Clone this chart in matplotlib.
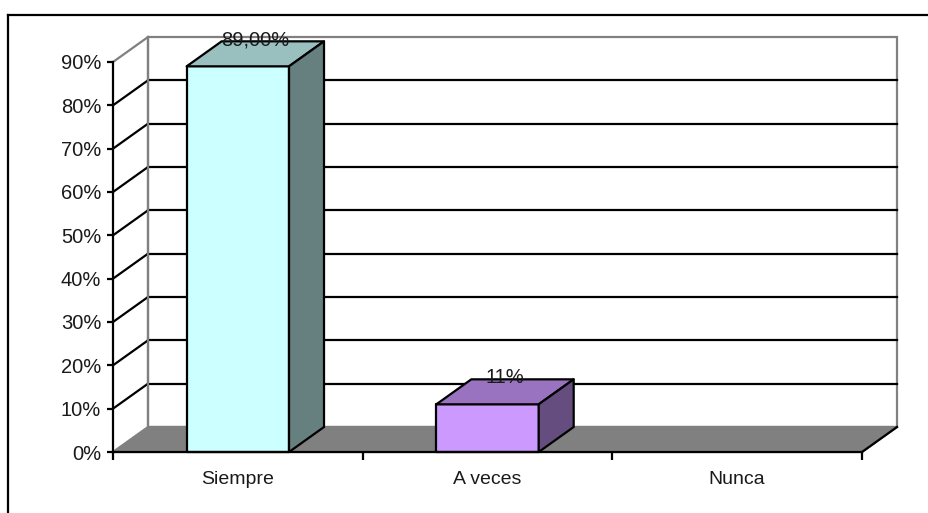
import matplotlib.pyplot as plt
from matplotlib.patches import Polygon
from matplotlib.lines import Line2D

categories = ["Siempre", "A veces", "Nunca"]
values = [89.0, 11.0, 0.0]
value_labels = ["89,00%", "11%", ""]
front_colors = ["#CCFFFF", "#CC99FF", "#CCCCCC"]
top_colors = ["#99BFBF", "#9973BF", "#999999"]
side_colors = ["#668080", "#664D80", "#666666"]
y_ticks = [0, 10, 20, 30, 40, 50, 60, 70, 80, 90]

plt.rcParams["font.family"] = ["Liberation Sans", "DejaVu Sans"]
plt.rcParams["font.size"] = 14

W, H = 929, 513
fig = plt.figure(figsize=(W / 100, H / 100), dpi=100)

# plot box in pixels: front axis runs x 113..862, y 452 (0%) .. 62 (90%)
x0, x1, y0, y1 = 113, 862, 452, 62
ax = fig.add_axes([x0 / W, 1 - y0 / H, (x1 - x0) / W, (y0 - y1) / H])
ymax = 90
ax.set_xlim(0, len(categories))
ax.set_ylim(0, ymax)

# depth of the 3d box, converted from pixels to data units
dx = 35 * len(categories) / (x1 - x0)
dy = 25 * ymax / (y0 - y1)
nx = len(categories)

wall_grey = "#808080"
lw = 1.6
txt = "#1a1a1a"

# back wall and floor
ax.add_patch(Polygon([(dx, dy), (nx + dx, dy), (nx + dx, ymax + dy), (dx, ymax + dy)],
                     closed=True, facecolor="white", edgecolor=wall_grey, lw=lw,
                     clip_on=False, zorder=1))
ax.add_patch(Polygon([(0, 0), (nx, 0), (nx + dx, dy), (dx, dy)], closed=True,
                     facecolor=wall_grey, edgecolor=wall_grey, lw=lw,
                     clip_on=False, zorder=1.5))
ax.plot([nx, nx + dx], [0, dy], color="black", lw=lw, clip_on=False, zorder=1.6)

# gridlines on back wall and left side wall
for v in y_ticks[1:]:
    c = wall_grey if v == ymax else "black"
    if v < ymax:
        ax.plot([dx, nx + dx], [v + dy, v + dy], color=c, lw=lw, clip_on=False, zorder=1.2)
    ax.plot([0, dx], [v, v + dy], color=c, lw=lw, clip_on=False, zorder=1.2)
ax.plot([dx, dx], [dy, ymax + dy], color=wall_grey, lw=lw, clip_on=False, zorder=1.3)

# 3d bars
bw = 0.41
for i, v in enumerate(values):
    if v <= 0:
        continue
    l, r = i + 0.5 - bw / 2, i + 0.5 + bw / 2
    front = [(l, 0), (r, 0), (r, v), (l, v)]
    top = [(l, v), (r, v), (r + dx, v + dy), (l + dx, v + dy)]
    side = [(r, 0), (r + dx, dy), (r + dx, v + dy), (r, v)]
    for pts, col in [(front, front_colors[i]), (top, top_colors[i]), (side, side_colors[i])]:
        ax.add_patch(Polygon(pts, closed=True, facecolor=col, edgecolor="black",
                             lw=lw, joinstyle="round", clip_on=False, zorder=3))

# value labels just above the back edge of each bar top
for i, (v, lab) in enumerate(zip(values, value_labels)):
    if lab:
        ax.text(i + 0.5 + dx / 2, v + dy - 0.9, lab, ha="center", va="baseline",
                color=txt, fontsize=14.5, zorder=5, clip_on=False)

for s in ["top", "right"]:
    ax.spines[s].set_visible(False)
for s in ["left", "bottom"]:
    ax.spines[s].set_linewidth(lw)
    ax.spines[s].set_zorder(4)

ax.set_yticks(y_ticks)
ax.set_yticklabels([f"{t}%" for t in y_ticks], fontsize=14.5)
ax.set_xticks(range(nx + 1))
ax.set_xticklabels([])
ax.set_xticks([i + 0.5 for i in range(nx)], minor=True)
ax.set_xticklabels(categories, minor=True)
ax.tick_params(axis="y", direction="out", length=4.5, width=lw, pad=4, labelcolor=txt)
ax.tick_params(axis="x", which="major", direction="out", length=5.5, width=lw)
ax.tick_params(axis="x", which="minor", length=0, pad=14, labelcolor=txt)
ax.patch.set_visible(False)

# outer chart border (top and left edges fall inside the image)
fig.add_artist(Line2D([8 / W, 8 / W], [0, 1 - 15 / H], color="black", lw=lw, transform=fig.transFigure))
fig.add_artist(Line2D([8 / W, 1], [1 - 15 / H, 1 - 15 / H], color="black", lw=lw, transform=fig.transFigure))

fig.savefig("out.png", dpi=100, facecolor="white")
